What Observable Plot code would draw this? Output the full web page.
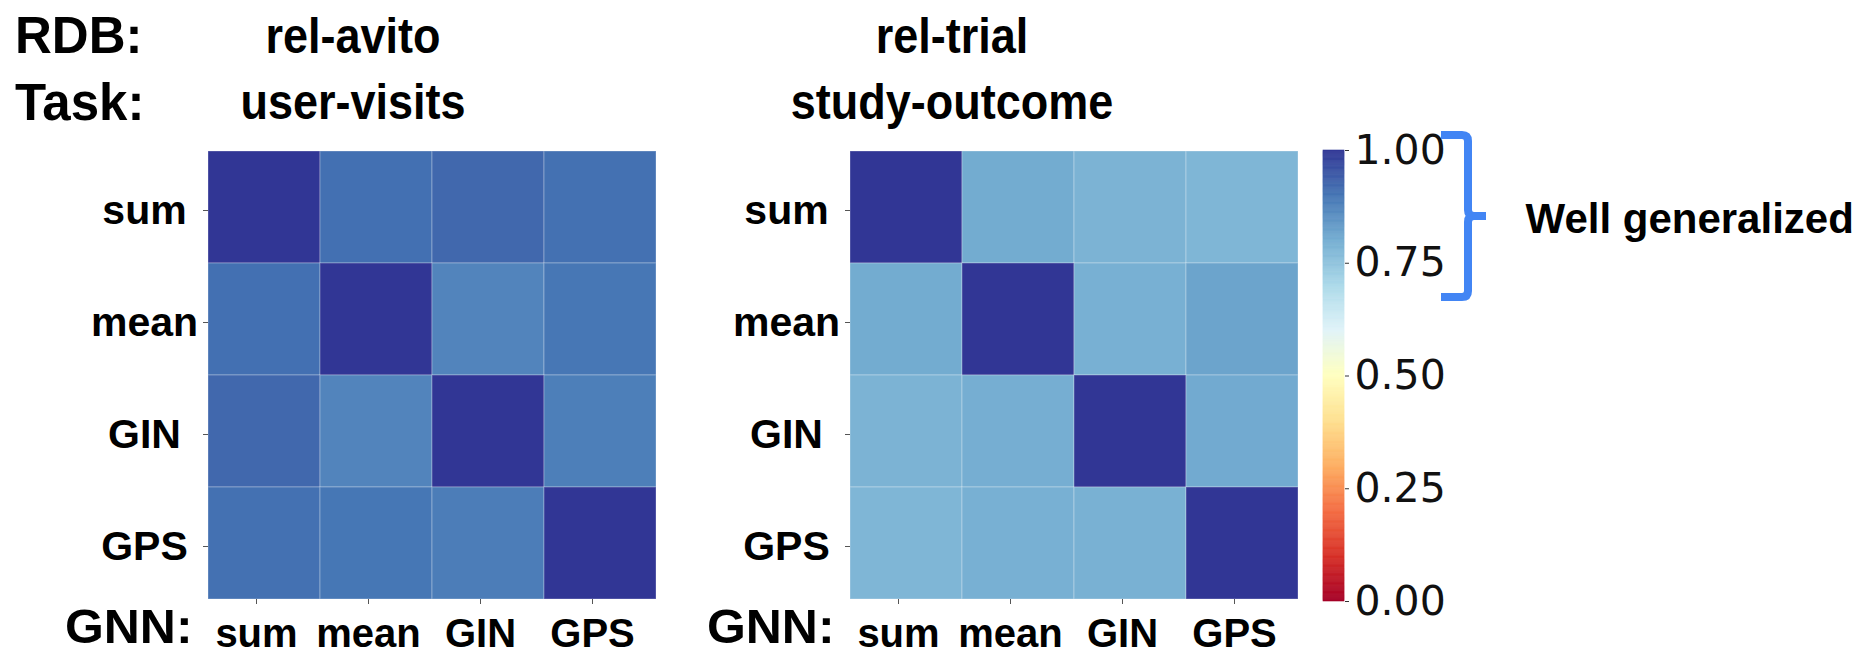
<!DOCTYPE html>
<html><head><meta charset="utf-8">
<script src="https://cdn.jsdelivr.net/npm/d3@7"></script>
<script src="https://cdn.jsdelivr.net/npm/@observablehq/plot@0.6"></script>
<style>
body{margin:0;background:#fff;}
#root{position:relative;width:1864px;height:654px;overflow:hidden;font-family:'Liberation Sans',Arial,sans-serif;}
#root > svg{position:absolute;top:0;}
</style></head><body><div id="root"></div>
<script>
// ---------- data ----------
const gnnModels = ["sum", "mean", "GIN", "GPS"];
const rdbNames = ["rel-avito", "rel-trial"];
const taskNames = ["user-visits", "study-outcome"];
// rows = GNN used for training, cols = GNN compared (generalization score)
const avitoUserVisits = [
  [1.00, 0.908, 0.921, 0.906],
  [0.908, 1.00, 0.873, 0.896],
  [0.921, 0.873, 1.00, 0.882],
  [0.906, 0.897, 0.885, 1.00]
];
const trialStudyOutcome = [
  [1.00, 0.802, 0.786, 0.780],
  [0.802, 1.00, 0.793, 0.816],
  [0.786, 0.797, 1.00, 0.805],
  [0.780, 0.793, 0.791, 1.00]
];
const colorTicks = [0, 0.25, 0.5, 0.75, 1];
const rdylbuStops = ["#a50026","#d73027","#f46d43","#fdae61","#fee090","#ffffbf","#e0f3f8","#abd9e9","#74add1","#4575b4","#313695"];
const bracketSpan = [0.674, 1.033];
const bracketText = "Well generalized";
const rowHeaders = ["RDB:", "Task:"];
const colHeader = "GNN:";

// ---------- shared ----------
const colorScale = {
  type: "linear",
  domain: rdylbuStops.map((_, i) => i / (rdylbuStops.length - 1)),
  range: rdylbuStops,
  interpolate: "rgb"
};
const boldFont = "'Liberation Sans', Arial, Helvetica, sans-serif";
const root = document.getElementById("root");

// ---------- overlay text (headers) ----------
const NS = "http://www.w3.org/2000/svg";
const overlay = document.createElementNS(NS, "svg");
overlay.setAttribute("width", 1864);
overlay.setAttribute("height", 654);
overlay.style.left = "0px";
function addText(str, x, y, size, anchor, sx = 1) {
  const t = document.createElementNS(NS, "text");
  t.setAttribute("transform", `translate(${x},${y}) scale(${sx},1)`);
  t.setAttribute("font-family", boldFont);
  t.setAttribute("font-weight", "bold");
  t.setAttribute("font-size", size);
  t.setAttribute("text-anchor", anchor);
  t.setAttribute("fill", "#000");
  t.textContent = str;
  overlay.appendChild(t);
}
addText(rowHeaders[0], 15, 53, 51, "start");
addText(rowHeaders[1], 15, 120, 51, "start");
const titleCenters = [353, 952];
rdbNames.forEach((n, i) => addText(n, titleCenters[i], 53, 50, "middle", 0.9));
taskNames.forEach((n, i) => addText(n, titleCenters[i], 119, 50, "middle", 0.9));
addText(colHeader, 65, 643, 48, "start", 1.04);
addText(colHeader, 707, 643, 48, "start", 1.04);
root.appendChild(overlay);

// ---------- heatmaps ----------
function heatmap(matrix, left, width, marginLeft) {
  const cells = matrix.flatMap((row, i) => row.map((v, j) => ({row: gnnModels[i], col: gnnModels[j], v})));
  const svg = Plot.plot({
    width, height: 654,
    marginLeft, marginRight: width - marginLeft - 448, marginTop: 151, marginBottom: 55,
    x: {domain: gnnModels, padding: 0, label: null},
    y: {domain: gnnModels, padding: 0, label: null},
    color: colorScale,
    style: {fontFamily: boldFont, fontWeight: "bold", fontSize: "41px", overflow: "visible", background: "transparent", color: "#000"},
    marks: [
      Plot.cell(cells, {x: "col", y: "row", fill: "v", inset: 0, stroke: "white", strokeOpacity: 0.3, strokeWidth: 1}),
      Plot.axisY({tickSize: 5, tickPadding: 59, textAnchor: "middle", dy: 3, stroke: "#555", fontSize: 41, label: null}),
      Plot.axisX({tickSize: 5, tickPadding: 14, dx: -8, stroke: "#555", fontSize: 40, label: null})
    ]
  });
  svg.style.left = left + "px";
  root.appendChild(svg);
}
heatmap(avitoUserVisits, 0, 700, 208);
heatmap(trialStudyOutcome, 680, 640, 170);

// ---------- colorbar ----------
const cbStep = 0.0025;
const cbValues = d3.range(0, 1, cbStep);
function bracketMark(index, scales, values, dimensions) {
  const y = scales.y;
  const top = y(bracketSpan[1]), bottom = y(bracketSpan[0]), mid = (top + bottom) / 2;
  const fx = dimensions.marginLeft + 21; // right edge of the colour bar
  const a = fx + 97, s = fx + 124, tip = fx + 142, r = 6;
  const d = `M${a},${top}H${s - r}Q${s},${top} ${s},${top + r}V${mid - r}Q${s},${mid} ${s + r},${mid}H${tip}` +
            `M${s + r},${mid}Q${s},${mid} ${s},${mid + r}V${bottom - r}Q${s},${bottom} ${s - r},${bottom}H${a}`;
  return d3.create("svg:path")
    .attr("d", d)
    .attr("fill", "none").attr("stroke", "#4285f4").attr("stroke-width", 8)
    .attr("stroke-linejoin", "round").node();
}
const cb = Plot.plot({
  width: 564, height: 654,
  marginLeft: 23, marginRight: 520, marginTop: 150, marginBottom: 53,
  y: {domain: [0, 1], label: null},
  color: colorScale,
  style: {fontFamily: "'DejaVu Sans', sans-serif", fontSize: "41px", overflow: "visible", background: "transparent", color: "#111"},
  marks: [
    Plot.rect(cbValues, {y1: d => d, y2: d => Math.min(1, d + cbStep), fill: d => d, stroke: d => d, strokeWidth: 0.6}),
    Plot.axisY({anchor: "right", ticks: colorTicks, tickFormat: ".2f", tickSize: 4, tickPadding: 6, fontSize: 41, stroke: "#333", label: null}),
    bracketMark,
    Plot.text([bracketText], {
      y: () => (bracketSpan[0] + bracketSpan[1]) / 2, frameAnchor: "left", dx: 202, dy: 3,
      textAnchor: "start", fontSize: 42, fontWeight: "bold", fontFamily: boldFont, fill: "#000"
    })
  ]
});
cb.style.left = "1300px";
root.appendChild(cb);
</script>
</body></html>
